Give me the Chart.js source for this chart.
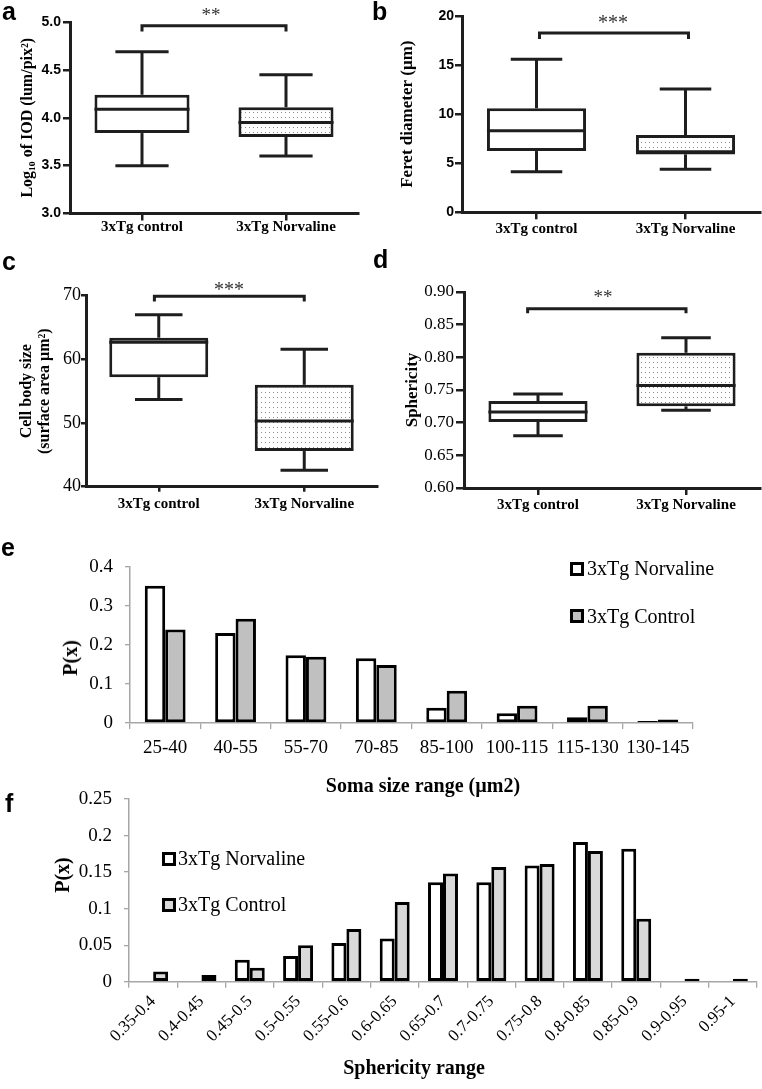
<!DOCTYPE html>
<html lang="en">
<head>
<meta charset="utf-8">
<title>Figure</title>
<script src="https://cdn.jsdelivr.net/npm/chart.js@4.4.1/dist/chart.umd.min.js"></script>
<style>
html,body{margin:0;padding:0;background:#fff;}
#fig{position:relative;width:762px;height:1089px;overflow:hidden;background:#fff;}
#fig canvas{position:absolute;left:0;top:0;}
.lbl{position:absolute;white-space:nowrap;color:#000;}
.serif{font-family:'Liberation Serif','Times New Roman',serif;}
.sans{font-family:'Liberation Sans',Arial,sans-serif;}
.sq{position:absolute;width:8px;height:8px;border:3px solid #000;}
</style>
</head>
<body>
<div id="fig">
<canvas id="chartA" width="762" height="1089"></canvas>
<canvas id="chartB" width="762" height="1089"></canvas>
<canvas id="chartC" width="762" height="1089"></canvas>
<canvas id="chartD" width="762" height="1089"></canvas>
<canvas id="chartE" width="762" height="1089"></canvas>
<canvas id="chartF" width="762" height="1089"></canvas>
</div>
<script>
// ---------------- data ----------------
const boxGroups = ['3xTg control', '3xTg Norvaline'];

const iodMin    = [3.50, 3.60];
const iodQ1     = [3.84, 3.80];
const iodMedian = [4.09, 3.95];
const iodQ3     = [4.24, 4.11];
const iodMax    = [4.69, 4.45];
const iodTicks  = [3.0, 3.5, 4.0, 4.5, 5.0];

const feretMin    = [4.13, 4.38];
const feretQ1     = [6.24, 5.90];
const feretMedian = [8.30, 6.17];
const feretQ3     = [10.60, 7.87];
const feretMax    = [15.60, 12.56];
const feretTicks  = [0, 5, 10, 15, 20];

const sizeMin    = [53.7, 42.6];
const sizeQ1     = [57.2, 45.6];
const sizeMedian = [62.7, 50.3];
const sizeQ3     = [63.4, 56.0];
const sizeMax    = [67.0, 61.6];
const sizeTicks  = [40, 50, 60, 70];

const sphMin    = [0.680, 0.719];
const sphQ1     = [0.701, 0.725];
const sphMedian = [0.7165, 0.757];
const sphQ3     = [0.733, 0.807];
const sphMax    = [0.744, 0.830];
const sphTicks  = [0.60, 0.65, 0.70, 0.75, 0.80, 0.85, 0.90];

const significance = ['**', '***', '***', '**'];

const somaRanges    = ['25-40', '40-55', '55-70', '70-85', '85-100', '100-115', '115-130', '130-145'];
const somaNorvaline = [0.352, 0.231, 0.174, 0.166, 0.039, 0.025, 0.015, 0.005];
const somaControl   = [0.240, 0.267, 0.170, 0.149, 0.083, 0.044, 0.044, 0.009];
const somaTicks     = [0, 0.1, 0.2, 0.3, 0.4];

const sphericityRanges    = ['0.35-0.4', '0.4-0.45', '0.45-0.5', '0.5-0.55', '0.55-0.6', '0.6-0.65', '0.65-0.7', '0.7-0.75', '0.75-0.8', '0.8-0.85', '0.85-0.9', '0.9-0.95', '0.95-1'];
const sphericityNorvaline = [0, 0, 0.030, 0.035, 0.053, 0.059, 0.136, 0.136, 0.159, 0.191, 0.182, 0, 0];
const sphericityControl   = [0.014, 0.009, 0.019, 0.050, 0.072, 0.109, 0.148, 0.157, 0.161, 0.179, 0.086, 0.004, 0.004];
const sphericityTicks     = [0, 0.05, 0.1, 0.15, 0.2, 0.25];

const seriesNames = ['3xTg Norvaline', '3xTg Control'];

// ---------------- helpers ----------------
const W = 762, H = 1089;
const INK = '#1e1e1e';
const SERIF = "'Liberation Serif', 'Times New Roman', serif";
const SANS = "'Liberation Sans', Arial, sans-serif";
const fig = document.getElementById('fig');

function addText(txt, x, baseline, size, fam, weight, anchor, color) {
  const el = document.createElement('div');
  el.className = 'lbl ' + fam;
  el.textContent = txt;
  el.style.fontSize = size + 'px';
  el.style.fontWeight = weight;
  el.style.lineHeight = size + 'px';
  el.style.top = (baseline - 0.845 * size) + 'px';
  el.style.left = x + 'px';
  if (anchor === 'center') el.style.transform = 'translateX(-50%)';
  el.style.color = color || '#000';
  fig.appendChild(el);
  return el;
}
function addRotText(txt, cx, cy, size, fam, weight) {
  const el = document.createElement('div');
  el.className = 'lbl ' + fam;
  el.textContent = txt;
  el.style.fontSize = size + 'px';
  el.style.fontWeight = weight;
  el.style.lineHeight = size + 'px';
  el.style.left = cx + 'px';
  el.style.top = cy + 'px';
  el.style.transform = 'translate(-50%,-50%) rotate(-90deg)';
  fig.appendChild(el);
}
function addSquare(x, cy, fill) {
  const el = document.createElement('div');
  el.className = 'sq';
  el.style.left = x + 'px';
  el.style.top = (cy - 7) + 'px';
  el.style.background = fill;
  fig.appendChild(el);
}
function dotPattern() {
  const c = document.createElement('canvas');
  c.width = 4; c.height = 5;
  const g = c.getContext('2d');
  g.fillStyle = '#ffffff'; g.fillRect(0, 0, 4, 5);
  g.fillStyle = '#8c8c8c'; g.fillRect(1, 2, 1, 1);
  return g.createPattern(c, 'repeat');
}

// ---------------- box plots ----------------
function makeBoxChart(id, d, L) {
  const whiskerPlugin = {
    id: 'whiskers',
    afterDatasetsDraw(chart) {
      const ctx = chart.ctx, xs = chart.scales.x, ys = chart.scales.y;
      const meta = chart.getDatasetMeta(0);
      ctx.save();
      ctx.strokeStyle = INK; ctx.lineWidth = 3; ctx.lineCap = 'butt'; ctx.lineJoin = 'miter';
      const seg = (x1, y1, x2, y2) => { ctx.beginPath(); ctx.moveTo(x1, y1); ctx.lineTo(x2, y2); ctx.stroke(); };
      meta.data.forEach((bar, i) => {
        const cx = bar.x, hw = bar.width / 2, cw = hw * L.cap;
        const yMed = ys.getPixelForValue(d.median[i]);
        const yQ1 = ys.getPixelForValue(d.q1[i]), yQ3 = ys.getPixelForValue(d.q3[i]);
        const yMin = ys.getPixelForValue(d.min[i]), yMax = ys.getPixelForValue(d.max[i]);
        seg(cx - hw, yMed, cx + hw, yMed);
        seg(cx, yQ3, cx, yMax);
        seg(cx, yQ1, cx, yMin);
        seg(cx - cw, yMax, cx + cw, yMax);
        seg(cx - cw, yMin, cx + cw, yMin);
      });
      const xa = xs.getPixelForValue(L.bracketFrom), xb = xs.getPixelForValue(L.bracketTo);
      const yt = ys.getPixelForValue(L.bracketTop), ye = ys.getPixelForValue(L.bracketEnd);
      ctx.beginPath(); ctx.moveTo(xa, ye); ctx.lineTo(xa, yt); ctx.lineTo(xb, yt); ctx.lineTo(xb, ye); ctx.stroke();
      ctx.restore();
    }
  };
  return new Chart(document.getElementById(id), {
    type: 'bar',
    data: {
      labels: boxGroups,
      datasets: [{
        data: d.q1.map((v, i) => [v, d.q3[i]]),
        backgroundColor: ['#ffffff', dotPattern()],
        borderColor: INK,
        borderWidth: 3,
        borderSkipped: false,
        barPercentage: L.bar,
        categoryPercentage: 1
      }]
    },
    options: {
      responsive: false, animation: false, events: [],
      layout: { padding: { left: L.left - L.yw, top: L.top, right: W - L.right, bottom: H - L.bottom - 40 } },
      plugins: { legend: { display: false }, tooltip: { enabled: false } },
      scales: {
        x: {
          offset: true,
          grid: { display: true, offset: false, drawOnChartArea: false, drawTicks: true, tickLength: L.xTick, color: INK, lineWidth: 2.5 },
          border: { display: true, color: INK, width: 3 },
          ticks: { color: '#000', font: { family: SERIF, weight: 'bold', size: 15 }, padding: L.xPad, maxRotation: 0, autoSkip: false },
          afterFit: s => { s.height = 40; }
        },
        y: {
          min: d.ticks[0], max: d.ticks[d.ticks.length - 1],
          afterBuildTicks: s => { s.ticks = d.ticks.map(v => ({ value: v })); },
          grid: { display: true, drawOnChartArea: false, drawTicks: true, tickLength: L.yTick, color: INK, lineWidth: 2.5 },
          border: { display: true, color: INK, width: 3 },
          ticks: { color: '#000', font: L.tickFont, padding: L.yPad, callback: v => L.fmt(v) },
          title: { display: true, text: L.title, color: '#000', font: { family: SERIF, weight: 'bold', size: L.titleSize, lineHeight: L.titleLH }, padding: 0 },
          afterFit: s => { s.width = L.yw; }
        }
      }
    },
    plugins: [whiskerPlugin]
  });
}

makeBoxChart('chartA',
  { min: iodMin, q1: iodQ1, median: iodMedian, q3: iodQ3, max: iodMax, ticks: iodTicks },
  { left: 70, right: 358, top: 22, bottom: 213.5, yw: 51.6, bar: 0.66, cap: 0.56,
    xTick: 7, xPad: -2, yTick: 7, yPad: 2,
    tickFont: { family: SANS, weight: 'bold', size: 14 }, fmt: v => v.toFixed(1),
    title: 'Log\u2081\u2080 of IOD (lum/pix\u00B2)', titleSize: 16, titleLH: 1.2,
    bracketFrom: 0, bracketTo: 1, bracketTop: 4.96, bracketEnd: 4.90 });

makeBoxChart('chartB',
  { min: feretMin, q1: feretQ1, median: feretMedian, q3: feretQ3, max: feretMax, ticks: feretTicks },
  { left: 462, right: 760, top: 16, bottom: 212.3, yw: 64.2, bar: 0.665, cap: 0.52,
    xTick: 7, xPad: 1, yTick: 7, yPad: 1,
    tickFont: { family: SANS, weight: 'bold', size: 14 }, fmt: v => String(v),
    title: 'Feret diameter (\u00B5m)', titleSize: 17, titleLH: 1.2,
    bracketFrom: 0.02, bracketTo: 1.02, bracketTop: 18.27, bracketEnd: 17.65 });

makeBoxChart('chartC',
  { min: sizeMin, q1: sizeQ1, median: sizeMedian, q3: sizeQ3, max: sizeMax, ticks: sizeTicks },
  { left: 86, right: 377, top: 295.7, bottom: 486.7, yw: 68, bar: 0.68, cap: 0.48,
    xTick: 5, xPad: 3, yTick: 5, yPad: 0,
    tickFont: { family: SERIF, weight: 'normal', size: 18 }, fmt: v => String(v),
    title: ['Cell body size', '(surface area \u00B5m\u00B2)'], titleSize: 16, titleLH: 1.125,
    bracketFrom: -0.03, bracketTo: 1, bracketTop: 69.9, bracketEnd: 69.1 });

makeBoxChart('chartD',
  { min: sphMin, q1: sphQ1, median: sphMedian, q3: sphQ3, max: sphMax, ticks: sphTicks },
  { left: 464, right: 760, top: 292, bottom: 488, yw: 61.2, bar: 0.67, cap: 0.5,
    xTick: 7, xPad: 1, yTick: 8, yPad: 2,
    tickFont: { family: SERIF, weight: 'normal', size: 17 }, fmt: v => v.toFixed(2),
    title: 'Sphericity', titleSize: 17, titleLH: 1.2,
    bracketFrom: -0.07, bracketTo: 1, bracketTop: 0.8744, bracketEnd: 0.8674 });

// ---------------- distribution bar charts ----------------
function makeDistChart(id, labels, nor, ctl, ticks, L) {
  return new Chart(document.getElementById(id), {
    type: 'bar',
    data: {
      labels: labels,
      datasets: [
        { label: seriesNames[0], data: nor, backgroundColor: '#ffffff', borderColor: '#000', borderWidth: 3, borderSkipped: false, categoryPercentage: L.cat, barPercentage: 1 },
        { label: seriesNames[1], data: ctl, backgroundColor: L.gray, borderColor: '#000', borderWidth: 3, borderSkipped: false, categoryPercentage: L.cat, barPercentage: 1 }
      ]
    },
    options: {
      responsive: false, animation: false, events: [],
      layout: { padding: { left: L.left - 70, top: L.top, right: W - L.right, bottom: H - L.bottom - L.xh } },
      plugins: { legend: { display: false }, tooltip: { enabled: false } },
      scales: {
        x: {
          grid: { display: true, offset: true, drawOnChartArea: false, drawTicks: true, tickLength: 6, color: '#a6a6a6', lineWidth: 1.3 },
          border: { display: true, color: '#a6a6a6', width: 1.5 },
          ticks: { color: '#000', font: { family: SERIF, size: L.xFont }, padding: L.xPad, minRotation: L.rot, maxRotation: L.rot, autoSkip: false },
          afterFit: s => { s.height = L.xh; }
        },
        y: {
          min: ticks[0], max: ticks[ticks.length - 1],
          afterBuildTicks: s => { s.ticks = ticks.map(v => ({ value: v })); },
          grid: { display: true, drawOnChartArea: false, drawTicks: true, tickLength: 5, color: '#a6a6a6', lineWidth: 1.3 },
          border: { display: true, color: '#a6a6a6', width: 1.5 },
          ticks: { color: '#000', font: { family: SERIF, size: 19 }, padding: 12, callback: v => String(v) },
          afterFit: s => { s.width = 70; }
        }
      }
    }
  });
}

makeDistChart('chartE', somaRanges, somaNorvaline, somaControl, somaTicks,
  { left: 130, right: 693, top: 567, bottom: 723, xh: 40, cat: 0.58, gray: '#c0c0c0', xFont: 19, xPad: 8, rot: 0 });
makeDistChart('chartF', sphericityRanges, sphericityNorvaline, sphericityControl, sphericityTicks,
  { left: 129, right: 757, top: 799, bottom: 981.7, xh: 70, cat: 0.62, gray: '#d9d9d9', xFont: 17, xPad: 4, rot: 45 });

// ---------------- text annotations ----------------
addText('a', 2, 20, 25, 'sans', 'bold');
addText('b', 372, 20, 25, 'sans', 'bold');
addText('c', 2, 270, 25, 'sans', 'bold');
addText('d', 373, 268, 25, 'sans', 'bold');
addText('e', 1, 556, 25, 'sans', 'bold');
addText('f', 5, 812, 25, 'sans', 'bold');

addText(significance[0], 211, 21, 19, 'serif', 'normal', 'center', '#333');
addText(significance[1], 613, 28.5, 20, 'serif', 'normal', 'center', '#333');
addText(significance[2], 229, 296, 20, 'serif', 'normal', 'center', '#333');
addText(significance[3], 603, 303.5, 19, 'serif', 'normal', 'center', '#333');

// panel e legend + titles
addSquare(570, 568.5, '#ffffff');
addText(seriesNames[0], 587, 575, 20, 'serif', 'normal');
addSquare(570, 616, '#c0c0c0');
addText(seriesNames[1], 587, 623, 20, 'serif', 'normal');
addRotText('P(x)', 70, 658, 20, 'serif', 'bold');
addText('Soma size range (\u00B5m2)', 423, 792, 20, 'serif', 'bold', 'center');

// panel f legend + titles
addSquare(162, 858.5, '#ffffff');
addText(seriesNames[0], 178, 865, 20, 'serif', 'normal');
addSquare(162, 904.5, '#d9d9d9');
addText(seriesNames[1], 178, 911, 20, 'serif', 'normal');
addRotText('P(x)', 62, 875, 20, 'serif', 'bold');
addText('Sphericity range', 414, 1074, 20, 'serif', 'bold', 'center');
</script>
</body>
</html>
